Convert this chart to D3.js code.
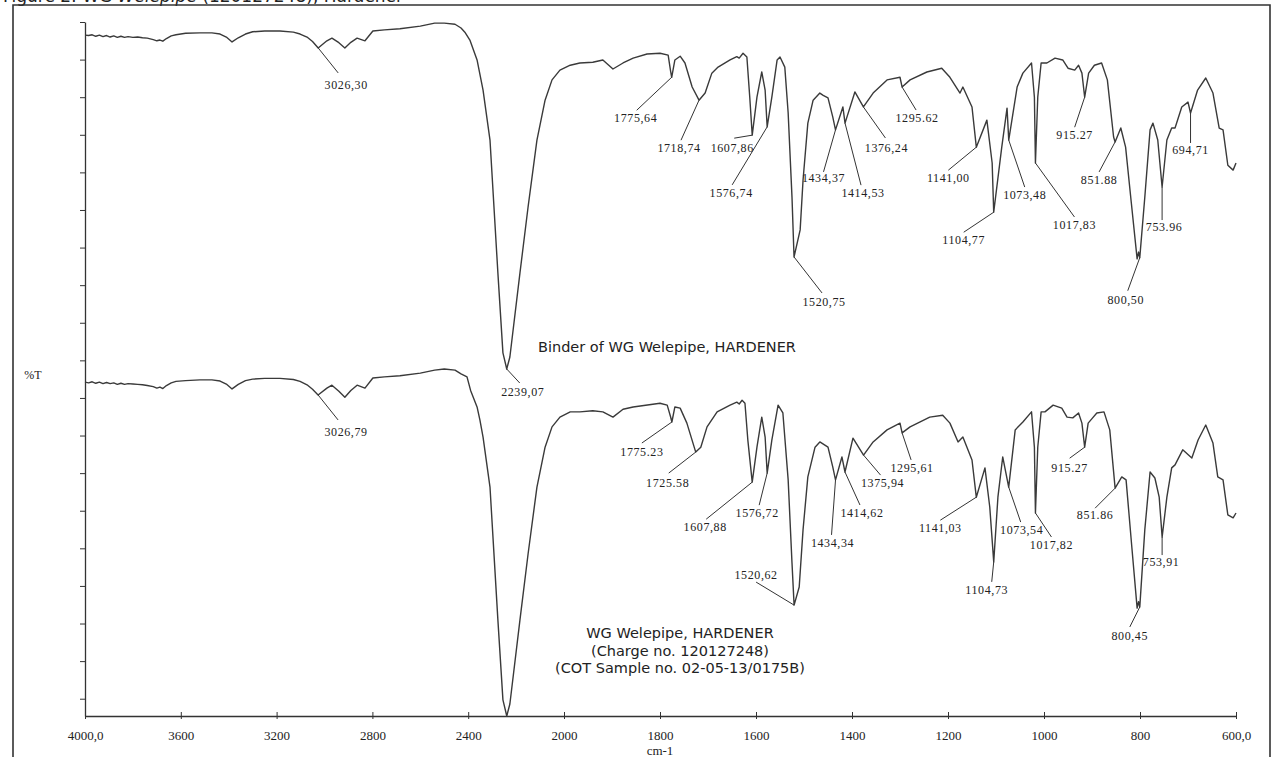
<!DOCTYPE html>
<html>
<head>
<meta charset="utf-8">
<script src="https://cdn.jsdelivr.net/npm/d3@7"></script>
<style>
  html, body { margin: 0; padding: 0; background: #fff; }
  svg { display: block; }
  .peak { font-family: "Liberation Serif", serif; font-size: 12px; letter-spacing: 0.6px; fill: #222; }
  .tick-lbl { font-family: "Liberation Serif", serif; font-size: 13px; fill: #222; }
  .note { font-family: "DejaVu Sans", Verdana, sans-serif; font-size: 14.5px; fill: #222; }
</style>
</head>
<body>
<div id="chart"></div>
<script>
// --- spettri: [numero d'onda cm-1, %T] ---
const upperT = [
  [4000,176.5],[3985,176.4],[3970,176.6],[3955,176.2],[3940,176.5],[3925,176.1],[3910,176.4],[3895,176.0],
  [3880,176.3],[3865,175.9],[3850,176.2],[3835,175.9],[3820,176.1],[3800,175.9],[3780,176.0],[3760,175.8],
  [3740,175.7],[3715,175.3],[3700,175.0],[3687,175.2],[3675,174.9],[3660,175.6],[3640,176.3],[3620,176.6],
  [3580,177.0],[3520,177.1],[3470,177.1],[3436,176.8],[3410,176.0],[3386,174.7],[3360,175.8],[3330,176.8],
  [3300,177.4],[3250,177.6],[3186,177.6],[3130,177.3],[3102,176.8],[3073,176.0],[3050,174.8],[3026.3,173.1],
  [2990,175.0],[2969,175.7],[2940,174.5],[2915,173.1],[2890,174.6],[2864,175.7],[2831,175.0],[2798,177.6],
  [2750,177.9],[2685,178.2],[2600,178.9],[2540,179.7],[2500,179.7],[2455,179.4],[2430,178.4],[2414,177.3],
  [2393,175.2],[2363,169.9],[2338,161.9],[2309,148.6],[2276,113.2],[2255,92.0],[2239.07,87.7],[2226,90.9],
  [2184,113.2],[2150,130.8],[2113,148.6],[2079,159.2],[2050,164.6],[2017,167.2],[1987,168.5],[1967,169.1],
  [1940,169.3],[1919,169.9],[1898,167.5],[1877,169.1],[1856,170.4],[1827,171.5],[1800,171.7],[1783,171.2],
  [1778,167.0],[1775.64,165.3],[1769,169.9],[1758,170.9],[1748,169.1],[1733,162.7],[1718.74,159.2],[1706,161.1],
  [1692,166.4],[1679,168.0],[1654,169.9],[1640,170.8],[1635,170.4],[1627,171.7],[1619,170.7],[1613,160.0],
  [1607.86,149.9],[1598,160.0],[1588,166.7],[1581,161.9],[1576.74,152.1],[1567,160.0],[1556,169.9],[1550,170.7],
  [1540,168.0],[1533,155.8],[1525,133.4],[1520.75,117.5],[1508,124.7],[1502,137.9],[1492,153.1],[1481,159.2],
  [1467,161.1],[1460,160.5],[1450,159.8],[1440,154.7],[1434.37,151.3],[1419,157.4],[1414.53,153.1],[1394,161.4],
  [1376.24,157.4],[1356,161.1],[1327,164.6],[1300,165.3],[1295.62,162.7],[1279,164.6],[1244,166.7],[1213,167.7],
  [1196,165.3],[1175,161.1],[1169,162.7],[1150,157.4],[1141.00,146.7],[1119,153.9],[1108,142.5],[1104.77,129.4],
  [1088,146.7],[1077,157.1],[1073.48,148.6],[1056,162.7],[1044,166.4],[1026,169.1],[1020,160.0],[1017.83,142.5],
  [1013,160.0],[1006,169.1],[994,169.1],[977,170.4],[961,169.9],[950,167.7],[936,167.2],[928,168.5],
  [921,166.4],[915.27,160.0],[907,166.4],[895,168.5],[880,169.1],[868,164.6],[855,149.4],[851.88,148.1],
  [840,151.8],[830,146.7],[818,131.8],[806,117.0],[803,118.8],[800.50,117.3],[790,133.4],[779,151.3],
  [773,153.1],[763,148.6],[753.96,136.1],[744,148.6],[734,151.8],[727,151.8],[713,157.4],[700,158.7],
  [694.71,155.8],[680,161.9],[663,165.1],[648,161.1],[635,151.8],[627,151.3],[617,141.9],[606,140.6],[600,142.5]
];

const lowerT = [
  [4000,84.2],[3985,84.0],[3970,84.3],[3955,83.9],[3940,84.2],[3925,83.8],[3910,84.1],[3895,83.8],
  [3880,84.0],[3865,83.6],[3850,83.9],[3835,83.6],[3820,83.8],[3800,83.7],[3780,83.6],[3760,83.5],
  [3740,83.3],[3715,83.0],[3700,82.6],[3687,82.9],[3675,82.5],[3660,83.3],[3640,84.0],[3620,84.4],
  [3580,84.6],[3520,84.8],[3470,84.8],[3436,84.5],[3410,83.7],[3386,82.4],[3360,83.6],[3330,84.6],
  [3300,85.0],[3250,85.2],[3186,85.2],[3130,84.9],[3102,84.4],[3073,83.5],[3050,82.3],[3026.79,80.8],
  [2990,82.6],[2969,83.4],[2940,81.8],[2915,80.2],[2890,82.0],[2864,83.4],[2831,82.6],[2798,85.3],
  [2750,85.6],[2685,85.9],[2600,86.6],[2540,87.4],[2500,87.7],[2455,87.4],[2430,86.4],[2405,85.6],
  [2390,82.0],[2363,77.6],[2351,74.1],[2338,69.6],[2309,56.3],[2276,20.9],[2255,-0.3],[2239,-4.6],
  [2226,-1.4],[2184,20.9],[2150,38.5],[2113,56.3],[2079,66.9],[2050,72.3],[2017,74.9],[1987,76.3],
  [1967,76.3],[1940,76.6],[1919,76.3],[1898,74.9],[1877,77.0],[1856,77.6],[1800,78.6],[1785,78.1],
  [1778,75.0],[1775.23,73.6],[1769,77.6],[1758,77.3],[1744,73.3],[1725.58,65.6],[1715,66.9],[1702,72.3],
  [1681,76.3],[1654,78.1],[1640,78.9],[1635,78.4],[1629,79.4],[1623,78.6],[1617,68.8],[1607.88,57.6],
  [1598,66.9],[1588,74.9],[1581,69.6],[1576.72,60.0],[1567,68.8],[1554,78.1],[1544,76.0],[1533,58.2],
  [1525,36.1],[1520.62,24.9],[1510,29.7],[1502,44.9],[1492,59.0],[1477,66.9],[1467,68.3],[1450,66.9],
  [1440,61.6],[1434.34,58.2],[1421,64.3],[1414.62,60.3],[1398,69.3],[1375.94,64.8],[1356,68.3],[1327,71.5],
  [1300,73.3],[1295.61,70.7],[1279,72.3],[1238,74.9],[1211,75.4],[1196,73.3],[1179,68.3],[1169,69.6],
  [1150,63.5],[1141.03,53.6],[1123,61.4],[1113,51.0],[1104.73,36.4],[1096,53.6],[1086,64.3],[1073.54,56.3],
  [1060,71.5],[1044,73.6],[1026,76.3],[1020,66.9],[1017.82,49.4],[1013,66.9],[1006,76.3],[998,76.3],
  [981,78.1],[963,77.3],[952,74.9],[940,74.7],[928,76.0],[921,73.3],[915.27,66.9],[908,73.3],
  [900,74.5],[890,76.0],[875,76.3],[863,71.5],[851.86,56.0],[838,59.0],[829,58.2],[817,40.3],
  [806,24.1],[803,25.8],[800.45,24.4],[790,44.9],[779,60.3],[769,58.7],[760,53.6],[753.91,43.0],
  [744,53.6],[734,61.4],[727,62.2],[711,66.2],[692,64.0],[679,68.8],[663,72.8],[648,68.0],
  [638,59.0],[627,58.2],[617,48.9],[606,48.1],[600,49.4]
];

// picchi etichettati
const upperPeaks = [3026.3, 2239.07, 1775.64, 1718.74, 1607.86, 1576.74, 1520.75, 1434.37, 1414.53, 1376.24,
  1295.62, 1141.00, 1104.77, 1073.48, 1017.83, 915.27, 851.88, 800.50, 753.96, 694.71];
const upperPeakLabels = ["3026,30","2239,07","1775,64","1718,74","1607,86","1576,74","1520,75","1434,37","1414,53","1376,24",
  "1295.62","1141,00","1104,77","1073,48","1017,83","915.27","851.88","800,50","753.96","694,71"];
const lowerPeaks = [3026.79, 1775.23, 1725.58, 1607.88, 1576.72, 1520.62, 1434.34, 1414.62, 1375.94, 1295.61,
  1141.03, 1104.73, 1073.54, 1017.82, 915.27, 851.86, 800.45, 753.91];
const lowerPeakLabels = ["3026,79","1775.23","1725.58","1607,88","1576,72","1520,62","1434,34","1414,62","1375,94","1295,61",
  "1141,03","1104,73","1073,54","1017,82","915.27","851.86","800,45","753,91"];

// posizione etichetta rispetto al picco: [dx testo, dy testo, dx fine linea, dy fine linea] (px)
const upperLabelPos = [[28,37,20,25],[16,23,13,14],[-36,41,-35,33],[-20,48,-18,40],[-20,13,-18,3],[-36,66,-35,58],
  [30,45,28,36],[-12,48,-12,42],[18,70,16,62],[23,41,22,31],[15,31,14,23],[-28,31,-28,23],[-30,28,-30,20],
  [16,55,16,47],[39,62,39,54],[-10,38,-10,30],[-16,38,-16,30],[-14,42,-12,33],[2,40,0,33],[0,37,0,30]];
const lowerLabelPos = [[28,37,20,25],[-30,30,-30,21],[-28,31,-27,21],[-47,45,-46,37],[-10,40,-8,32],[-38,-30,-38,-23],
  [-3,63,-4,55],[17,41,15,33],[19,28,17,20],[10,35,9,27],[-36,31,-36,23],[-7,28,-2,20],[13,43,12,35],
  [16,32,16,24],[-15,21,-15,11],[-20,27,-20,20],[-10,29,-10,20],[-1,25,0,18]];

// assi
const xTicks = [4000, 3600, 3200, 2800, 2400, 2000, 1800, 1600, 1400, 1200, 1000, 800, 600];
const yTicks = d3.range(0, 181, 10);
const titleText = ["Figure 2: WG ", "Welepipe", " (120127248), Hardener"];
const upperNote = ["Binder of WG Welepipe, HARDENER"];
const lowerNote = ["WG Welepipe, HARDENER", "(Charge no. 120127248)", "(COT Sample no. 02-05-13/0175B)"];

const W = 1272, H = 757;
const svg = d3.select("#chart").append("svg").attr("width", W).attr("height", H);

// scala x a due tratti (cambio di scala a 2000 cm-1)
const x = d3.scaleLinear().domain([4000, 2000, 600]).range([85, 564, 1236]);
const y = d3.scaleLinear().domain([-4.6, 180]).range([716, 22]);

// titolo tagliato in alto
const title = svg.append("text").attr("x", 3).attr("y", 2)
  .style("font-family", '"DejaVu Sans", sans-serif').style("font-size", "17px").attr("fill", "#222");
titleText.forEach((t, i) => title.append("tspan").text(t).style("font-style", i === 1 ? "italic" : "normal"));

// cornice
svg.append("path").attr("d", `M13,${H + 5} V5 H1270 V${H + 5}`)
  .attr("fill", "none").attr("stroke", "#333").attr("stroke-width", 1.6);

// asse y (solo tacche)
const gy = svg.append("g").attr("transform", "translate(85,0)")
  .call(d3.axisLeft(y).tickValues(yTicks).tickSize(5).tickSizeOuter(0).tickFormat(""));
gy.select(".domain").attr("stroke", "#333").attr("stroke-width", 1.3);
gy.selectAll(".tick line").attr("stroke", "#333");

// asse x
const gx = svg.append("g").attr("transform", "translate(0,716)")
  .call(d3.axisBottom(x).tickValues(xTicks).tickSizeOuter(0)
    .tickFormat(d => (d === 4000 || d === 600) ? d + ",0" : d));
gx.select(".domain").attr("stroke", "#333").attr("stroke-width", 1.3);
gx.selectAll(".tick line").attr("y1", -4).attr("y2", 3).attr("stroke", "#333");
gx.selectAll(".tick text").attr("class", "tick-lbl").attr("y", 19).attr("dy", "0.35em")
  .style("font-family", '"Liberation Serif", serif').style("font-size", "13px");

svg.append("text").attr("class", "tick-lbl").attr("x", x(1800)).attr("y", 750).attr("dy", "0.35em")
  .attr("text-anchor", "middle").text("cm-1");
svg.append("text").attr("class", "tick-lbl").attr("x", 33).attr("y", 375).attr("dy", "0.35em")
  .attr("text-anchor", "middle").style("font-size", "12px").text("%T");

// spettri
const line = d3.line().x(d => x(d[0])).y(d => y(d[1]));
[upperT, lowerT].forEach(s => {
  svg.append("path").datum(s).attr("d", line)
    .attr("fill", "none").attr("stroke", "#3a3a3a").attr("stroke-width", 1.4).attr("stroke-linejoin", "round");
});

// etichette dei picchi con linea di richiamo
function drawPeaks(series, peaks, labels, pos) {
  peaks.forEach((p, i) => {
    const pt = series.find(d => d[0] === p);
    const px = x(pt[0]), py = y(pt[1]);
    const o = pos[i];
    svg.append("line").attr("x1", px).attr("y1", py).attr("x2", px + o[2]).attr("y2", py + o[3])
      .attr("stroke", "#333").attr("stroke-width", 1);
    svg.append("text").attr("class", "peak").attr("x", px + o[0]).attr("y", py + o[1])
      .attr("dy", "0.35em").attr("text-anchor", "middle").text(labels[i]);
  });
}
drawPeaks(upperT, upperPeaks, upperPeakLabels, upperLabelPos);
drawPeaks(lowerT, lowerPeaks, lowerPeakLabels, lowerLabelPos);

// note dei campioni
upperNote.forEach((t, i) => {
  svg.append("text").attr("class", "note").attr("x", 538).attr("y", 347 + i * 17.5)
    .attr("dy", "0.35em").text(t);
});
lowerNote.forEach((t, i) => {
  svg.append("text").attr("class", "note").attr("x", 680).attr("y", 633 + i * 17.5)
    .attr("dy", "0.35em").attr("text-anchor", "middle").text(t);
});
</script>
</body>
</html>
